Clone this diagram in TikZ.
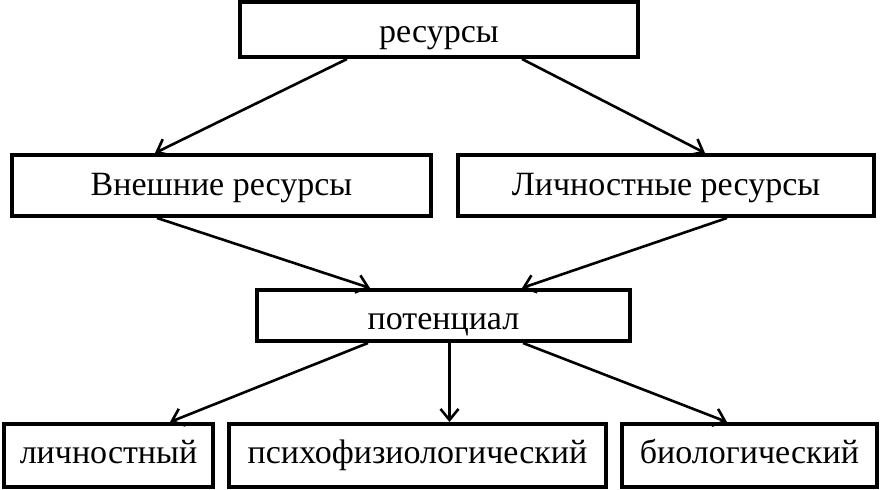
\documentclass[tikz,border=0pt]{standalone}
\usepackage{fontspec}
\setmainfont{Liberation Serif}
\usetikzlibrary{arrows.meta}
\begin{document}
\begin{tikzpicture}[x=1pt,y=-1pt,
  box/.style={draw=black,line width=4pt,fill=white,inner sep=0pt,
    font=\fontsize{34}{40}\selectfont,text height=28pt,text depth=8pt},
  conn/.style={line width=2.6pt,-{Straight Barb[length=11pt,width=18pt,line width=2.6pt]}}]
\useasboundingbox (0,0) rectangle (881,490);
\node[box,minimum width=398pt,minimum height=55pt,text height=33pt] (res) at (439,29.5) {ресурсы};
\node[box,minimum width=419pt,minimum height=61pt] (ext) at (221.5,185.5) {Внешние ресурсы};
\node[box,minimum width=416pt,minimum height=61pt] (lic) at (666,185.5) {Личностные ресурсы};
\node[box,minimum width=373pt,minimum height=51pt,text height=36pt] (pot) at (443.5,315.5) {потенциал};
\node[box,minimum width=209pt,minimum height=63pt,text height=24pt] (b1) at (108.5,455.5) {личностный};
\node[box,minimum width=377pt,minimum height=63pt,text height=24pt] (b2) at (417.5,455.5) {психофизиологический};
\node[box,minimum width=255pt,minimum height=63pt,text height=24pt] (b3) at (749.5,455.5) {биологический};
\draw[conn] ([xshift=-92pt]res.south) -- ([xshift=-66.5pt]ext.north);
\draw[conn] ([xshift=83pt]res.south) -- ([xshift=39pt]lic.north);
\draw[conn] ([xshift=-64.5pt]ext.south) -- ([xshift=-73.5pt]pot.north);
\draw[conn] ([xshift=61pt]lic.south) -- ([xshift=78.5pt]pot.north);
\draw[conn] ([xshift=-75.5pt]pot.south) -- ([xshift=61.5pt]b1.north);
\draw[conn] ([xshift=6pt]pot.south) -- ([xshift=32pt]b2.north);
\draw[conn] ([xshift=79.5pt]pot.south) -- ([xshift=-22.5pt]b3.north);
\end{tikzpicture}
\end{document}
